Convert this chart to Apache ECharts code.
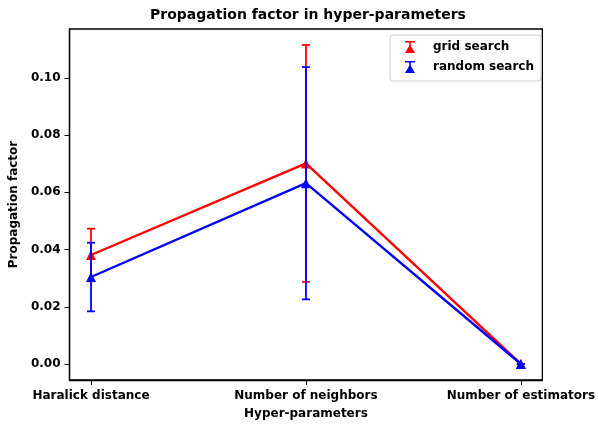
<!DOCTYPE html>
<html lang="en">
<head>
    <meta charset="UTF-8">
    <title>Propagation factor in hyper-parameters</title>
    <script src="https://cdn.jsdelivr.net/npm/echarts@6/dist/echarts.min.js"></script>
    <style>
        html, body { margin: 0; padding: 0; background: #fff; }
        #chart { width: 598px; height: 425px; }
    </style>
</head>
<body>
    <div id="chart"></div>
    <script>
        // values
        var categories = ['Haralick distance', 'Number of neighbors', 'Number of estimators'];
        var gridMean = [0.0381, 0.0701, 0.0];
        var gridErr = [0.0092, 0.0414, 0.0];
        var randomMean = [0.0304, 0.0632, 0.0];
        var randomErr = [0.0120, 0.0406, 0.0];
        var yTicks = [0, 0.02, 0.04, 0.06, 0.08, 0.10];
        var xTicks = [0, 1, 2];

        var font = 'DejaVu Sans';
        // legend icon: triangle marker with an error bar cap
        var errIcon = 'path://M0,0L10,0L10,1.6L0,1.6Z M4.2,0L5.8,0L5.8,12L4.2,12Z M0,12L5,3.5L10,12Z';

        function points(mean) {
            return mean.map(function (v, i) { return [i, v]; });
        }
        function bars(mean, err) {
            return mean.map(function (v, i) { return [i, v - err[i], v + err[i]]; });
        }

        // vertical error bar with caps
        function errRender(color) {
            return function (params, api) {
                var x = api.value(0);
                var lo = api.coord([x, api.value(1)]);
                var hi = api.coord([x, api.value(2)]);
                var cap = 4;
                var style = { stroke: color, lineWidth: 1.8 };
                return {
                    type: 'group',
                    children: [
                        { type: 'line', shape: { x1: lo[0], y1: lo[1], x2: hi[0], y2: hi[1] }, style: style },
                        { type: 'line', shape: { x1: lo[0] - cap, y1: lo[1], x2: lo[0] + cap, y2: lo[1] }, style: style },
                        { type: 'line', shape: { x1: hi[0] - cap, y1: hi[1], x2: hi[0] + cap, y2: hi[1] }, style: style }
                    ]
                };
            };
        }

        var myChart = echarts.init(document.getElementById('chart'));

        var option = {
            backgroundColor: '#fff',
            animation: false,
            title: {
                text: 'Propagation factor in hyper-parameters',
                left: 308,
                top: 8,
                textAlign: 'center',
                padding: 0,
                textStyle: { fontFamily: font, fontSize: 14, fontWeight: 'bold', color: '#000' }
            },
            legend: {
                orient: 'vertical',
                left: 390,
                top: 35,
                padding: [6, 7, 8, 15],
                itemGap: 8,
                itemWidth: 10,
                itemHeight: 13,
                icon: errIcon,
                backgroundColor: '#fff',
                borderColor: '#cccccc',
                borderWidth: 1,
                borderRadius: 3,
                textStyle: { fontFamily: font, fontSize: 12, fontWeight: 'bold', color: '#000', padding: [0, 0, 0, 13] },
                data: ['grid search', 'random search']
            },
            grid: {
                left: 69,
                right: 51,
                top: 29,
                bottom: 41,
                show: true,
                borderColor: '#000',
                borderWidth: 1.3,
                backgroundColor: 'transparent'
            },
            xAxis: {
                type: 'value',
                min: -0.1,
                max: 2.1,
                name: 'Hyper-parameters',
                nameLocation: 'middle',
                nameGap: 28,
                nameTextStyle: { fontFamily: font, fontSize: 12, fontWeight: 'bold', color: '#000' },
                axisLine: { show: true, onZero: false, lineStyle: { color: '#000', width: 1.3 } },
                splitLine: { show: false },
                axisTick: { show: true, length: 5, customValues: xTicks, lineStyle: { color: '#000', width: 1 } },
                axisLabel: {
                    customValues: xTicks,
                    margin: 10,
                    fontFamily: font, fontSize: 12, fontWeight: 'bold', color: '#000',
                    formatter: function (v) { return categories[Math.round(v)]; }
                }
            },
            yAxis: {
                type: 'value',
                min: -0.0056,
                max: 0.1171,
                name: 'Propagation factor',
                nameLocation: 'middle',
                nameGap: 42,
                nameTextStyle: { fontFamily: font, fontSize: 12, fontWeight: 'bold', color: '#000' },
                axisLine: { show: true, onZero: false, lineStyle: { color: '#000', width: 1.3 } },
                splitLine: { show: false },
                axisTick: { show: true, length: 5, customValues: yTicks, lineStyle: { color: '#000', width: 1 } },
                axisLabel: {
                    customValues: yTicks,
                    margin: 9,
                    fontFamily: font, fontSize: 12, fontWeight: 'bold', color: '#000',
                    formatter: function (v) { return v.toFixed(2); }
                }
            },
            series: [
                {
                    name: 'grid search',
                    type: 'line',
                    z: 2,
                    data: points(gridMean),
                    symbol: 'triangle',
                    symbolSize: 10,
                    itemStyle: { color: '#ff0000' },
                    lineStyle: { color: '#ff0000', width: 2.4 }
                },
                {
                    name: 'grid search',
                    type: 'custom',
                    z: 3,
                    renderItem: errRender('#ff0000'),
                    encode: { x: 0, y: [1, 2] },
                    itemStyle: { color: '#ff0000' },
                    data: bars(gridMean, gridErr)
                },
                {
                    name: 'random search',
                    type: 'line',
                    z: 4,
                    data: points(randomMean),
                    symbol: 'triangle',
                    symbolSize: 10,
                    itemStyle: { color: '#0000ff' },
                    lineStyle: { color: '#0000ff', width: 2.4 }
                },
                {
                    name: 'random search',
                    type: 'custom',
                    z: 5,
                    renderItem: errRender('#0000ff'),
                    encode: { x: 0, y: [1, 2] },
                    itemStyle: { color: '#0000ff' },
                    data: bars(randomMean, randomErr)
                }
            ]
        };

        myChart.setOption(option);
    </script>
</body>
</html>
